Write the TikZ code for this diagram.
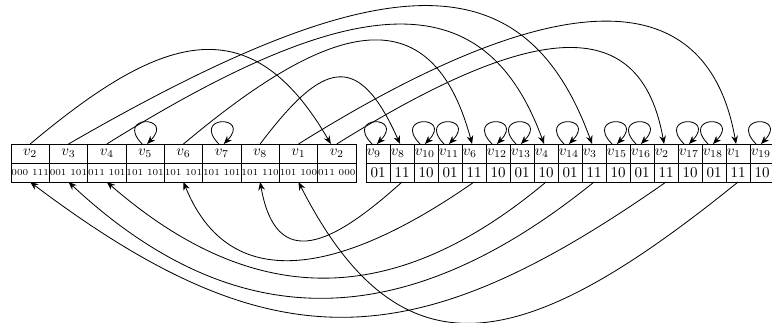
\documentclass[tikz,border=0pt]{standalone}
\usetikzlibrary{arrows.meta}
\begin{document}
\begin{tikzpicture}[x=0.6667pt,y=0.6667pt,
  cell/.style={draw, line width=0.55pt, inner sep=0pt, outer sep=0pt, minimum height=12.67pt},
  lt/.style={cell, minimum width=25.56pt, text height=4.5pt, text depth=2.5pt},
  lb/.style={cell, minimum width=25.56pt, font=\fontsize{6.1}{7}\selectfont},
  rt/.style={cell, text width=15pt, inner xsep=0.5pt, align=left, text height=4.5pt, text depth=2.5pt},
  rb/.style={cell, minimum width=16pt},
  arc/.style={line width=0.55pt, -{Stealth[length=5.5pt,width=4.4pt]}},
  selfloop/.style={arc, out=134, in=46, distance=27pt}]
\useasboundingbox (0,0) rectangle (772,322);
% left array
\foreach \lab/\bits [count=\i] in {2/000 111, 3/001 101, 4/011 101, 5/101 101, 6/101 101, 7/101 101, 8/101 110, 1/101 100, 2/011 000}{
  \node[lt] (L\i) at ({30.165+38.33*(\i-1)},168.5) {$v_{\lab}$};
  \node[lb] (LB\i) at ({30.165+38.33*(\i-1)},149.5) {\bits};
}
% right array
\foreach \lab/\bits [count=\j] in {9/01, 8/11, 10/10, 11/01, 6/11, 12/10, 13/01, 4/10, 14/01, 3/11, 15/10, 16/01, 2/11, 17/10, 18/01, 1/11, 19/10}{
  \node[rt] (R\j) at ({378+24*(\j-1)},168.5) {$v_{\lab}$};
  \node[rb] (RB\j) at ({378+24*(\j-1)},149.5) {\bits};
}
% self loops
\foreach \k in {4,6}{
  \draw[selfloop] ([xshift=-2pt]L\k.north) to ([xshift=1.3pt]L\k.north);
}
\foreach \k in {1,3,4,6,7,9,11,12,14,15,17}{
  \draw[selfloop] ([xshift=-4pt]R\k.north) to ([xshift=-0.7pt]R\k.north);
}
% upper arcs
\draw[arc] (L1.north) to[out=40,in=120,distance=110pt] ([xshift=-4pt]L9.north);
\draw[arc] (L2.north) to[out=30,in=110,out distance=240pt,in distance=133pt] ([xshift=-1.3pt]R10.north);
\draw[arc] (L3.north) to[out=32,in=110,out distance=200pt,in distance=113pt] ([xshift=-1.3pt]R8.north);
\draw[arc] (L5.north) to[out=40,in=105,distance=113pt] ([xshift=-1.3pt]R5.north);
\draw[arc] (L7.north) to[out=53,in=114,distance=69pt] ([xshift=-1.3pt]R2.north);
\draw[arc] (L8.north) to[out=32,in=100,out distance=200pt,in distance=113pt] ([xshift=-1.3pt]R16.north);
\draw[arc] (L9.north) to[out=32,in=100,out distance=160pt,in distance=87pt] ([xshift=-1.3pt]R13.north);
% lower arcs
\draw[arc] (RB2.south) to[out=222,in=-80,distance=62pt] (LB7.south);
\draw[arc] (RB5.south) to[out=215,in=-68,distance=91pt] (LB5.south);
\draw[arc] (RB8.south) to[out=220,in=-41,distance=131pt] (LB3.south);
\draw[arc] (RB10.south) to[out=219,in=-43,distance=157pt] (LB2.south);
\draw[arc] (RB13.south) to[out=215,in=-37,distance=204pt] (LB1.south);
\draw[arc] (RB16.south) to[out=219,in=-63,out distance=180pt,in distance=153pt] (LB8.south);
\end{tikzpicture}
\end{document}
